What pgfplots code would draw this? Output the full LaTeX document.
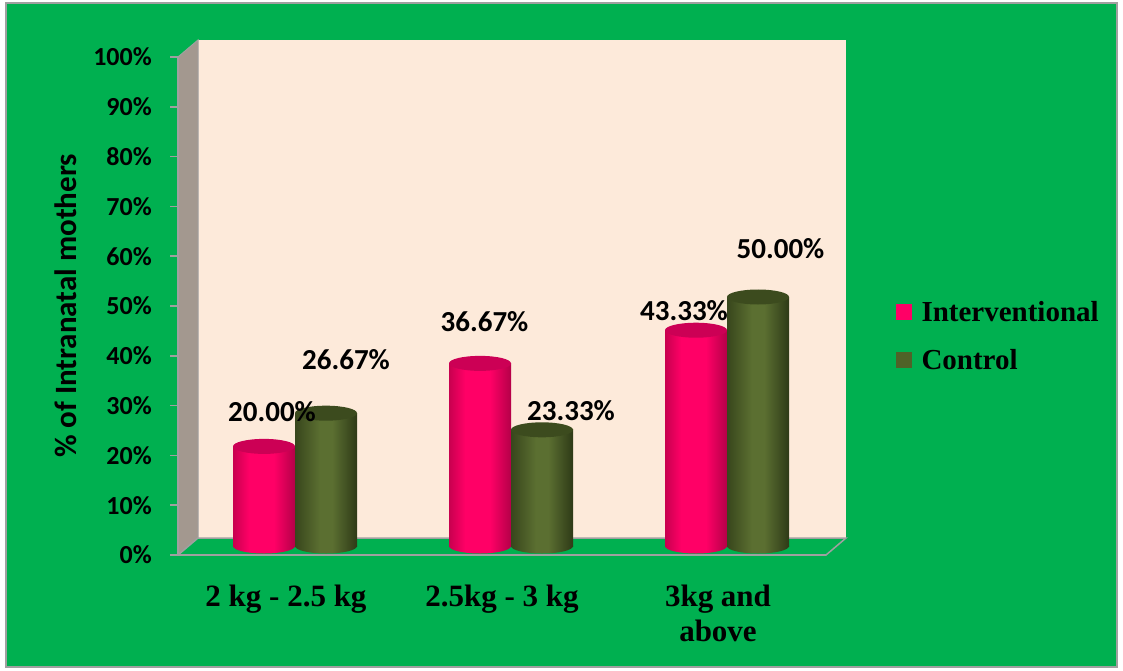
\documentclass[border=0pt]{standalone}
\usepackage{pgfplots}
\usepackage{pgfplotstable}
\pgfplotsset{compat=1.18}
\usepackage{fontspec}
\setmainfont{Liberation Serif}
\newfontfamily\carlito{Carlito}

\definecolor{bggreen}{HTML}{00B050}
\definecolor{wallpeach}{HTML}{FDEADA}
\definecolor{sidewall}{HTML}{A3988F}
\definecolor{edgegrey}{HTML}{A0A0A0}
\definecolor{pinkmain}{HTML}{FF0066}
\definecolor{pinkedge}{HTML}{C8004F}
\definecolor{pinkdark}{HTML}{B40048}
\definecolor{pinktop}{HTML}{CC0055}
\definecolor{olivemain}{HTML}{4F6228}
\definecolor{olivelight}{HTML}{5B6F31}
\definecolor{oliveedge}{HTML}{38461C}
\definecolor{olivedark}{HTML}{2E3A17}
\definecolor{olivetop}{HTML}{3C4B1E}

% cylinder body shadings (dark rim, bright middle)
\pgfdeclarehorizontalshading{pinkcyl}{100bp}{color(0bp)=(pinkedge); color(25bp)=(pinkedge); color(38bp)=(pinkmain); color(58bp)=(pinkmain); color(75bp)=(pinkdark); color(100bp)=(pinkdark)}
\pgfdeclarehorizontalshading{olivecyl}{100bp}{color(0bp)=(oliveedge); color(25bp)=(oliveedge); color(45bp)=(olivelight); color(55bp)=(olivelight); color(75bp)=(olivedark); color(100bp)=(olivedark)}

% rounded bases and flat tops of the cylinders
\pgfdeclareplotmark{pinkbase}{\pgfpathellipse{\pgfqpoint{-31pt}{0pt}}{\pgfqpoint{31pt}{0pt}}{\pgfqpoint{0pt}{7.5pt}}\pgfshadepath{pinkcyl}{0}\pgfusepath{discard}}
\pgfdeclareplotmark{olivebase}{\pgfpathellipse{\pgfqpoint{31pt}{0pt}}{\pgfqpoint{31pt}{0pt}}{\pgfqpoint{0pt}{7.5pt}}\pgfshadepath{olivecyl}{0}\pgfusepath{discard}}
\pgfdeclareplotmark{pinkcap}{\pgfpathellipse{\pgfqpoint{-31pt}{0pt}}{\pgfqpoint{31pt}{0pt}}{\pgfqpoint{0pt}{7.5pt}}\pgfsetfillcolor{pinktop}\pgfusepath{fill}}
\pgfdeclareplotmark{olivecap}{\pgfpathellipse{\pgfqpoint{31pt}{0pt}}{\pgfqpoint{31pt}{0pt}}{\pgfqpoint{0pt}{7.5pt}}\pgfsetfillcolor{olivetop}\pgfusepath{fill}}

\newcommand\tickfont{\carlito\bfseries\fontsize{26}{30}\selectfont}
\newcommand\titlefont{\carlito\bfseries\fontsize{31}{36}\selectfont}
\newcommand\labelfont{\carlito\bfseries\fontsize{29}{34}\selectfont}
\newcommand\catfont{\bfseries\fontsize{31}{35}\selectfont}
\newcommand\legendfont{\bfseries\fontsize{29}{34}\selectfont}

% weight group, share (%), base, label offset from group centre (pt)
\pgfplotstableread{
x y base dx dy
0 20.00 0 -23 35
1 36.67 0 -26.5 42
2 43.33 0 -43 20
}\intervtable
\pgfplotstableread{
x y base dx dy
0 26.67 0 51 54
1 23.33 0 60 19
2 50.00 0 53.5 48.5
}\controltable

\begin{document}
\begin{tikzpicture}
% frame, back wall, side wall and floor
\fill[white] (0pt,0pt) rectangle (1123pt,670pt);
\filldraw[fill=bggreen, draw=edgegrey, line width=1.5pt] (6pt,3pt) rectangle (1117pt,667pt);
\fill[wallpeach] (198pt,132pt) rectangle (846pt,630pt);
\filldraw[fill=sidewall, draw=edgegrey, line width=1pt] (178pt,115pt)--(198pt,132pt)--(198pt,630pt)--(178pt,613pt)--cycle;
\filldraw[fill=bggreen, draw=edgegrey, line width=1.5pt] (178pt,115pt)--(198pt,132pt)--(846pt,132pt)--(826pt,115pt)--cycle;

% front plane: axes, ticks and labels
\begin{axis}[
  at={(178pt,115pt)}, anchor=south west,
  width=648pt, height=498pt, scale only axis,
  xmin=-0.5, xmax=2.5, ymin=0, ymax=100,
  axis x line*=bottom, axis y line*=left,
  axis line style={draw=edgegrey, line width=1.5pt},
  xtick={0,1,2},
  xticklabels={2 kg - 2.5 kg, 2.5kg - 3 kg, {3kg and\\above}},
  major x tick style={draw=none},
  ytick={0,10,...,100},
  yticklabel={\pgfmathprintnumber{\tick}\%},
  major y tick style={draw=edgegrey, line width=1.5pt},
  tick align=outside, major tick length=8pt,
  /pgf/number format/assume math mode=true,
  yticklabel style={font=\tickfont, inner sep=0pt, anchor=east, xshift=-18pt},
  xticklabel style={font=\catfont, align=center, anchor=north, inner sep=0pt, yshift=-22pt},
  ylabel={\% of Intranatal mothers},
  every axis y label/.style={at={(axis description cs:-0.1728,0.5)}, rotate=90, anchor=center, font=\titlefont},
]
\end{axis}

% cylinders on the mid-depth plane
\begin{axis}[
  at={(187pt,124pt)}, anchor=south west,
  width=648pt, height=498pt, scale only axis,
  xmin=-0.5, xmax=2.5, ymin=0, ymax=100,
  hide axis, clip=false,
  /pgf/number format/assume math mode=true,
  legend image code/.code={\fill[#1] (0pt,-7.5pt) rectangle (15pt,7.5pt);},
  legend style={at={(axis description cs:1.094,0.4217)}, anchor=west,
    draw=none, fill=none, font=\legendfont, row sep=22pt, column sep=8pt,
    inner sep=0pt, nodes={inner sep=2pt}},
  legend cell align=left,
]
\addlegendimage{pinkmain}
\addlegendentry{Interventional}
\addlegendimage{olivemain}
\addlegendentry{Control}

% one cylinder per plot, so that each body gets its own shading
\pgfplotsinvokeforeach{0,1,2}{
  \addplot[only marks, mark=pinkbase, forget plot, restrict expr to domain={\coordindex}{#1:#1}] table[x=x,y=base]{\intervtable};
  \addplot[ybar, bar width=62pt, bar shift=-31pt, draw=none, shading=pinkcyl, shading angle=0, forget plot, restrict expr to domain={\coordindex}{#1:#1}] table[x=x,y=y]{\intervtable};
  \addplot[only marks, mark=pinkcap, forget plot, restrict expr to domain={\coordindex}{#1:#1}] table[x=x,y=y]{\intervtable};
  \addplot[only marks, mark=olivebase, forget plot, restrict expr to domain={\coordindex}{#1:#1}] table[x=x,y=base]{\controltable};
  \addplot[ybar, bar width=62pt, bar shift=31pt, draw=none, shading=olivecyl, shading angle=0, forget plot, restrict expr to domain={\coordindex}{#1:#1}] table[x=x,y=y]{\controltable};
  \addplot[only marks, mark=olivecap, forget plot, restrict expr to domain={\coordindex}{#1:#1}] table[x=x,y=y]{\controltable};
}

% value labels
\pgfplotsset{valuelabels/.style={draw=none, mark=none, forget plot,
  visualization depends on={\thisrow{dx}\as\labdx},
  visualization depends on={\thisrow{dy}\as\labdy},
  nodes near coords={\pgfmathprintnumber[fixed,fixed zerofill,precision=2]{\pgfplotspointmeta}\%},
  every node near coord/.append style={anchor=center, xshift=\labdx pt, yshift=\labdy pt, font=\labelfont, text=black, inner sep=0pt}}}
\addplot[valuelabels] table[x=x,y=y]{\intervtable};
\addplot[valuelabels] table[x=x,y=y]{\controltable};
\end{axis}
\end{tikzpicture}
\end{document}
